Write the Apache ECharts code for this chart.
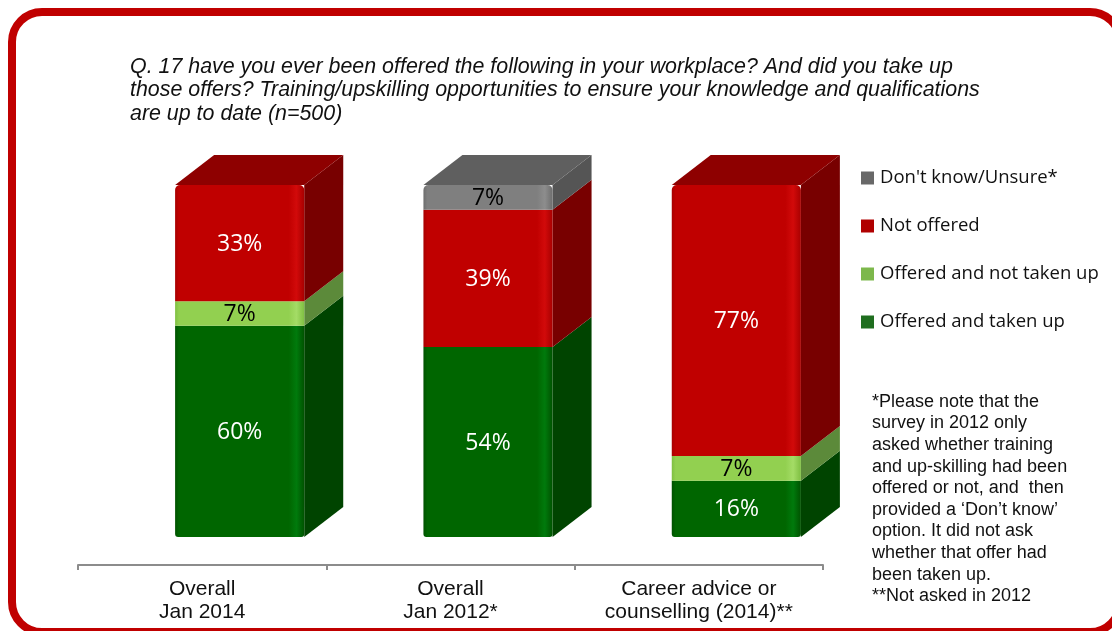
<!DOCTYPE html>
<html>
<head>
<meta charset="utf-8">
<script src="https://cdn.jsdelivr.net/npm/echarts@6/dist/echarts.min.js"></script>
<style>
  html, body { margin: 0; padding: 0; background: #ffffff; }
  #chart { width: 1112px; height: 631px; }
</style>
</head>
<body>
<div id="chart"></div>
<script>
// Survey groups shown along the category axis
const categories = ['Overall\nJan 2014', 'Overall\nJan 2012*', 'Career advice or\ncounselling (2014)**'];

// Shares of respondents (%), stacked bottom to top
const takenUp    = [60, 54, 16];
const notTakenUp = [7, null, 7];
const notOffered = [33, 39, 77];
const dontKnow   = [null, 7, null];

const seriesNames = ['Offered and taken up', 'Offered and not taken up', 'Not offered', "Don't know/Unsure*"];
const legendOrder = ["Don't know/Unsure*", 'Not offered', 'Offered and not taken up', 'Offered and taken up'];

const footnote = [
  '*Please note that the',
  'survey in 2012 only',
  'asked whether training',
  'and up-skilling had been',
  'offered or not, and  then',
  'provided a \u2018Don\u2019t know\u2019',
  'option. It did not ask',
  'whether that offer had',
  'been taken up.',
  '**Not asked in 2012'
];

const titleText = 'Q. 17 have you ever been offered the following in your workplace? And did you take up\n' +
  'those offers? Training/upskilling opportunities to ensure your knowledge and qualifications\n' +
  'are up to date (n=500)';

// Face shades for each segment: front, lit front edge, top, side, label colour
const palette = [
  { front: '#006600', light: '#007a0c', dark: '#005200', top: '#004f00', side: '#004400', legend: '#1f6e1f', label: '#ffffff' },
  { front: '#92d050', light: '#a4dc66', dark: '#7fbf42', top: '#6f9f44', side: '#5c8a3a', legend: '#7db84c', label: '#000000' },
  { front: '#c00000', light: '#d20a0a', dark: '#a80000', top: '#8e0000', side: '#780000', legend: '#b00000', label: '#ffffff' },
  { front: '#7f7f7f', light: '#8d8d8d', dark: '#6e6e6e', top: '#5f5f5f', side: '#555555', legend: '#686868', label: '#000000' }
];

const values = [takenUp, notTakenUp, notOffered, dontKnow];

// Cumulative stacking and the topmost segment of every bar
const bases = values.map(() => []);
const topIndex = [];
const bottomIndex = [];
categories.forEach((c, i) => {
  let acc = 0;
  values.forEach((arr, s) => {
    bases[s][i] = acc;
    if (arr[i] != null && arr[i] > 0) {
      if (bottomIndex[i] == null) bottomIndex[i] = s;
      acc += arr[i];
      topIndex[i] = s;
    }
  });
});

// 3D look: depth offset of side/top faces and horizontal shift of the front face
const DEPTH_X = 39, DEPTH_Y = -30;
const SHIFT = 0.151, FRONT_W = 0.52;

function makeRender(s) {
  const col = palette[s];
  return function (params, api) {
    const ci = api.value(0);
    const lo = api.coord([ci, api.value(1)]);
    const hi = api.coord([ci, api.value(2)]);
    const band = api.size([1, 0])[0];
    const cx = lo[0] + band * SHIFT;
    const w = band * FRONT_W;
    const x0 = cx - w / 2, x1 = cx + w / 2;
    const yb = lo[1], yt = hi[1];
    const isTop = topIndex[ci] === s;
    const isBottom = bottomIndex[ci] === s;
    const children = [];
    // side face
    children.push({
      type: 'polygon',
      shape: { points: [[x1, yb], [x1 + DEPTH_X, yb + DEPTH_Y], [x1 + DEPTH_X, yt + DEPTH_Y], [x1, yt]] },
      style: { fill: col.side }
    });
    // top face on the highest segment
    if (isTop) {
      children.push({
        type: 'polygon',
        shape: { points: [[x0, yt], [x0 + DEPTH_X, yt + DEPTH_Y], [x1 + DEPTH_X, yt + DEPTH_Y], [x1, yt]] },
        style: { fill: col.top }
      });
    }
    // front face
    const rTop = isTop ? 5 : 0, rBot = isBottom ? 3 : 0;
    children.push({
      type: 'rect',
      shape: { x: x0, y: yt, width: w, height: yb - yt, r: [rTop, rTop, rBot, rBot] },
      style: {
        fill: new echarts.graphic.LinearGradient(0, 0, 1, 0, [
          { offset: 0, color: col.dark },
          { offset: 0.03, color: col.front },
          { offset: 0.88, color: col.front },
          { offset: 0.94, color: col.light },
          { offset: 1, color: col.dark }
        ])
      }
    });
    // value label
    children.push({
      type: 'text',
      style: {
        text: api.value(3) + '%',
        x: cx, y: (yb + yt) / 2 + 1,
        align: 'center', verticalAlign: 'middle',
        fill: col.label,
        font: '23px "Open Sans", sans-serif'
      }
    });
    return { type: 'group', children: children };
  };
}

const series = values.map((arr, s) => ({
  name: seriesNames[s],
  type: 'custom',
  renderItem: makeRender(s),
  itemStyle: { color: palette[s].legend },
  encode: { x: 0, y: [1, 2] },
  data: categories.map((c, i) => arr[i] != null ? [i, bases[s][i], bases[s][i] + arr[i], arr[i]] : null)
    .filter(d => d !== null)
}));

const chart = echarts.init(document.getElementById('chart'), null, { renderer: 'canvas' });
chart.setOption({
  animation: false,
  backgroundColor: '#ffffff',
  title: {
    text: titleText,
    left: 130, top: 55, padding: 0,
    textStyle: {
      fontFamily: '"Liberation Sans", Arial, sans-serif',
      fontStyle: 'italic', fontWeight: 'normal',
      fontSize: 21.4, lineHeight: 23.5, color: '#111111'
    }
  },
  legend: {
    data: legendOrder,
    orient: 'vertical',
    left: 856, top: 163,
    itemWidth: 13, itemHeight: 13, itemGap: 28,
    icon: 'rect',
    textStyle: {
      fontFamily: '"Open Sans", sans-serif',
      fontSize: 18.5, lineHeight: 20, color: '#111111', padding: [0, 0, 0, 1]
    }
  },
  grid: { left: 78, right: 289, top: 185, bottom: 94 },
  xAxis: {
    type: 'category',
    data: categories,
    offset: 28,
    axisLine: { onZero: false, lineStyle: { color: '#8c8c8c', width: 2 } },
    axisTick: { show: true, length: 5, lineStyle: { color: '#8c8c8c', width: 2 } },
    axisLabel: {
      margin: 13,
      fontFamily: '"Liberation Sans", Arial, sans-serif',
      fontSize: 21, lineHeight: 23, color: '#111111'
    }
  },
  yAxis: { type: 'value', min: 0, max: 100, show: false },
  series: series,
  graphic: [
    {
      type: 'rect',
      shape: { x: 12, y: 12, width: 1108, height: 620, r: 30 },
      style: { fill: 'none', stroke: '#c00000', lineWidth: 8 },
      silent: true, z: 100
    },
    {
      type: 'text',
      left: 872, top: 391,
      style: {
        text: footnote.join('\n'),
        font: '18px "Liberation Sans", Arial, sans-serif',
        lineHeight: 21.6,
        fill: '#111111'
      }
    }
  ]
});
</script>
</body>
</html>
